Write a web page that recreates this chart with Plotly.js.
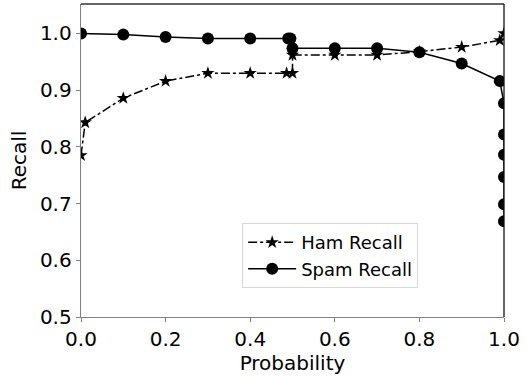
<!DOCTYPE html>
<html><head><meta charset="utf-8">
<script src="https://cdn.plot.ly/plotly-3.0.1.min.js"></script>
<style>html,body{margin:0;padding:0;background:#fff}</style>
</head><body><div id="chart" style="width:527px;height:376px"></div>
<script>
const hamX = [0.0, 0.01, 0.1, 0.2, 0.3, 0.4, 0.486, 0.5, 0.5, 0.6, 0.7, 0.8, 0.9, 0.99, 1.0];
const hamY = [0.785, 0.843, 0.886, 0.916, 0.930, 0.930, 0.930, 0.930, 0.962, 0.962, 0.962, 0.968, 0.976, 0.988, 1.0];
const spamX = [0.0, 0.1, 0.2, 0.3, 0.4, 0.49, 0.495, 0.5, 0.6, 0.7, 0.8, 0.9, 0.99, 1.0, 1.0, 1.0, 1.0, 1.0, 1.0];
const spamY = [1.0, 0.998, 0.994, 0.991, 0.991, 0.991, 0.991, 0.974, 0.974, 0.974, 0.967, 0.947, 0.916, 0.877, 0.822, 0.786, 0.747, 0.699, 0.669];
const xTicks = [0, 0.2, 0.4, 0.6, 0.8, 1.0];
const xTickText = ['0.0', '0.2', '0.4', '0.6', '0.8', '1.0'];
const yTicks = [0.5, 0.6, 0.7, 0.8, 0.9, 1.0];
const yTickText = ['0.5', '0.6', '0.7', '0.8', '0.9', '1.0'];

const font = 'DejaVu Sans, sans-serif';
const traces = [
  {x: hamX, y: hamY, name: 'Ham Recall', mode: 'lines+markers',
   line: {color: '#000', width: 1.5, dash: 'dashdot'},
   marker: {symbol: 'star', size: 10, color: '#000'}},
  {x: spamX, y: spamY, name: 'Spam Recall', mode: 'lines+markers',
   line: {color: '#000', width: 1.5},
   marker: {symbol: 'circle', size: 12, color: '#000'}}
];
const axisCommon = {
  showgrid: false, zeroline: false, showline: true, linecolor: '#808080', linewidth: 1.3,
  ticks: 'outside', ticklen: 4, tickwidth: 1, tickcolor: '#808080',
  tickfont: {family: font, size: 20, color: '#000'}
};
const layout = {
  width: 527, height: 376,
  margin: {l: 81, r: 23, t: 4, b: 59},
  paper_bgcolor: '#fff', plot_bgcolor: '#fff',
  showlegend: true,
  xaxis: Object.assign({}, axisCommon, {range: [0, 1], tickvals: xTicks, ticktext: xTickText,
    title: {text: 'Probability', font: {family: font, size: 20, color: '#000'}, standoff: 2}}),
  yaxis: Object.assign({}, axisCommon, {range: [0.5, 1.052], tickvals: yTicks, ticktext: yTickText,
    title: {text: 'Recall', font: {family: font, size: 20, color: '#000'}, standoff: 8}}),
  legend: {x: 0.381, y: 0.300, xanchor: 'left', yanchor: 'top',
    bgcolor: 'rgba(255,255,255,0.8)', bordercolor: '#d8d8d8', borderwidth: 1,
    font: {family: font, size: 18, color: '#000'}, tracegroupgap: 0, itemwidth: 48},
  shapes: [
    {type: 'line', xref: 'paper', yref: 'paper', x0: 0, x1: 1, y0: 1, y1: 1, line: {color: '#333', width: 1.3}},
    {type: 'line', xref: 'paper', yref: 'paper', x0: 1, x1: 1, y0: 0, y1: 1, line: {color: '#111', width: 1.3}}
  ]
};
Plotly.newPlot('chart', traces, layout, {displayModeBar: false, staticPlot: true});
</script></body></html>
